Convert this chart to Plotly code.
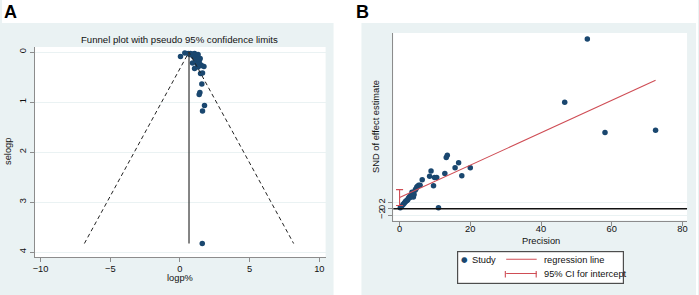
import plotly.graph_objects as go

W, H = 699, 295


def px(x):
    return x / W


def py(y):
    return 1 - y / H


# ---------------- Panel A: funnel plot data ----------------
a_logp = [0.04, 0.35, 0.60, 0.75, 0.95, 1.05, 0.70, 0.85, 1.10, 1.30, 1.20, 1.00,
          1.30, 1.15, 1.45, 1.25, 1.40, 1.15, 1.35, 0.90, 1.25, 1.45, 1.55, 1.72,
          1.05, 1.30, 1.48, 1.62, 1.57, 1.43, 1.38, 1.76, 1.62, 1.60]
a_selogp = [0.09, 0.02, 0.03, 0.03, 0.04, 0.03, 0.05, 0.06, 0.07, 0.05, 0.09, 0.10,
            0.11, 0.12, 0.13, 0.14, 0.16, 0.17, 0.20, 0.22, 0.24, 0.25, 0.27, 0.29,
            0.33, 0.30, 0.43, 0.42, 0.64, 0.81, 0.85, 1.07, 1.18, 3.83]
pooled_logp = 0.65
max_se = 3.83
z95 = 1.96
a_xticks = [-10, -5, 0, 5, 10]
a_yticks = [0, 1, 2, 3, 4]

# ---------------- Panel B: Egger regression data ----------------
b_precision = [0.2, 0.6, 1.0, 1.3, 1.6, 1.8, 2.1, 2.3, 2.5, 2.8, 3.0, 3.2, 3.5, 3.9,
               4.1, 4.4, 4.6, 4.9, 5.0, 5.4, 5.8, 6.4, 8.5, 8.9, 9.6, 9.9, 10.5,
               11.0, 12.8, 13.2, 13.5, 15.7, 16.7, 17.6, 20.0, 46.7, 53.1, 58.1, 72.4]
b_snd = [0.3, 0.8, 1.3, 1.7, 2.1, 2.4, 2.6, 2.8, 3.3, 3.8, 3.5, 4.2, 5.2, 3.7,
         4.5, 5.8, 6.2, 6.8, 7.0, 7.4, 7.4, 9.1, 10.2, 11.9, 7.2, 9.8, 9.8,
         0.3, 11.1, 16.1, 16.8, 12.9, 14.5, 10.4, 12.9, 33.5, 53.4, 24.0, 24.7]
reg_intercept = 3.5
reg_slope = 0.51
reg_x_end = 72.4
ci_low, ci_high = 1.0, 6.0
b_xticks = [0, 20, 40, 60, 80]
b_yticks = [-2, 0, 2]

NAVY = "#1a476f"
RED = "#cf4d55"
BG = "#eaf2f3"
AXIS = "#8c8c8c"
FONT = "Arial, Liberation Sans, sans-serif"
FS = 9.3

fig = go.Figure()

# Panel A traces
fig.add_trace(go.Scatter(x=a_logp, y=a_selogp, mode="markers",
                         marker=dict(color=NAVY, size=5.5, line=dict(width=0)),
                         xaxis="x", yaxis="y", showlegend=False, hoverinfo="skip"))
fig.add_trace(go.Scatter(x=[pooled_logp - z95 * max_se, pooled_logp, pooled_logp + z95 * max_se],
                         y=[max_se, 0, max_se], mode="lines",
                         line=dict(color="#222222", width=1, dash="4px,3px"),
                         xaxis="x", yaxis="y", showlegend=False, hoverinfo="skip"))
fig.add_trace(go.Scatter(x=[pooled_logp, pooled_logp], y=[0, max_se], mode="lines",
                         line=dict(color="#333333", width=1.2),
                         xaxis="x", yaxis="y", showlegend=False, hoverinfo="skip"))

# Panel B traces
fig.add_trace(go.Scatter(x=b_precision, y=b_snd, mode="markers",
                         marker=dict(color=NAVY, size=5.5, line=dict(width=0)),
                         xaxis="x2", yaxis="y2", showlegend=False, hoverinfo="skip"))
fig.add_trace(go.Scatter(x=[0, reg_x_end], y=[reg_intercept, reg_intercept + reg_slope * reg_x_end],
                         mode="lines", line=dict(color=RED, width=1.1),
                         xaxis="x2", yaxis="y2", showlegend=False, hoverinfo="skip"))
cap = 1.0
fig.add_trace(go.Scatter(x=[0, 0, None, -cap, cap, None, -cap, cap],
                         y=[ci_low, ci_high, None, ci_low, ci_low, None, ci_high, ci_high],
                         mode="lines", line=dict(color=RED, width=1.1),
                         xaxis="x2", yaxis="y2", showlegend=False, hoverinfo="skip"))

shapes = []
# white areas outside the two light panels
for (x0, x1, y0, y1) in [(0, 699, 0, 23), (333, 361, 0, 295), (697, 699, 0, 295)]:
    shapes.append(dict(type="rect", xref="paper", yref="paper", x0=px(x0), x1=px(x1), y0=py(y1), y1=py(y0),
                       fillcolor="white", line=dict(width=0), layer="below"))
# zero line in B
shapes.append(dict(type="line", xref="x2 domain", yref="y2", x0=0, x1=1, y0=0, y1=0,
                   line=dict(color="#111111", width=1.3)))


def key_line(x, y, dx, dy):
    # short red legend-key segment drawn as a head-less arrow
    return dict(text="", x=px(x), y=py(y), xref="paper", yref="paper", showarrow=True, arrowhead=0,
                ax=dx, ay=dy, axref="pixel", ayref="pixel", arrowcolor=RED, arrowwidth=1.1,
                standoff=0, startstandoff=0)


tf = dict(family=FONT, size=FS, color="#111111")
annotations = [
    # legend box
    dict(text=" ", x=px(541), y=py(267.5), xanchor="center", yanchor="middle", xref="paper", yref="paper",
         showarrow=False, width=165, height=31, bgcolor="white", bordercolor="#4d4d4d", borderwidth=1.2,
         borderpad=0, font=tf),
    dict(text="●", x=px(464), y=py(259.5), xanchor="center", yanchor="middle", showarrow=False,
         xref="paper", yref="paper", font=dict(family="DejaVu Sans", size=7.5, color=NAVY)),
    key_line(537, 259.3, -32, 0),
    key_line(537, 273.5, -32, 0),
    key_line(505.5, 277.5, 0, -8),
    key_line(536.5, 277.5, 0, -8),
    dict(text="<b>A</b>", x=px(0), y=py(0), xanchor="left", yanchor="top", showarrow=False,
         xref="paper", yref="paper", font=dict(family=FONT, size=18, color="black")),
    dict(text="<b>B</b>", x=px(354), y=py(0), xanchor="left", yanchor="top", showarrow=False,
         xref="paper", yref="paper", font=dict(family=FONT, size=18, color="black")),
    dict(text="Funnel plot with pseudo 95% confidence limits", x=px(178.5), y=py(39), xanchor="center",
         yanchor="middle", showarrow=False, xref="paper", yref="paper", font=dict(family=FONT, size=9.6, color="#111")),
    dict(text="logp%", x=px(178.5), y=py(277.5), xanchor="center", yanchor="middle", showarrow=False,
         xref="paper", yref="paper", font=tf),
    dict(text="selogp", x=px(6), y=py(151), xanchor="center", yanchor="middle", showarrow=False, textangle=-90,
         xref="paper", yref="paper", font=tf),
    dict(text="Precision", x=px(541), y=py(241), xanchor="center", yanchor="middle", showarrow=False,
         xref="paper", yref="paper", font=tf),
    dict(text="SND of effect estimate", x=px(375), y=py(126.5), xanchor="center", yanchor="middle",
         showarrow=False, textangle=-90, xref="paper", yref="paper", font=tf),
    dict(text="Study", x=px(470.5), y=py(259.5), xanchor="left", yanchor="middle", showarrow=False,
         xref="paper", yref="paper", font=tf),
    dict(text="regression line", x=px(542.5), y=py(259.5), xanchor="left", yanchor="middle", showarrow=False,
         xref="paper", yref="paper", font=tf),
    dict(text="95% CI for intercept", x=px(542.5), y=py(273.5), xanchor="left", yanchor="middle",
         showarrow=False, xref="paper", yref="paper", font=tf),
]

axis_common = dict(showline=True, linecolor=AXIS, linewidth=1, ticks="outside", ticklen=4, tickcolor=AXIS,
                   tickwidth=1, zeroline=False, tickfont=dict(family=FONT, size=FS, color="#111111"),
                   fixedrange=True)

fig.update_layout(
    width=W, height=H, margin=dict(l=0, r=0, t=0, b=0),
    paper_bgcolor=BG, plot_bgcolor="white",
    showlegend=False, shapes=shapes, annotations=annotations,
    xaxis=dict(domain=[px(33), px(325)], range=[-10.41, 10.45], tickmode="array", tickvals=a_xticks,
               showgrid=False, anchor="y", ticklabelstandoff=-1, **axis_common),
    yaxis=dict(domain=[py(257), py(47)], range=[4.1, -0.1], tickmode="array", tickvals=a_yticks,
               tickangle=-90, showgrid=True, gridcolor=BG, gridwidth=1, anchor="x", **axis_common),
    xaxis2=dict(domain=[px(393), px(688)], range=[-1.77, 81.3], tickmode="array", tickvals=b_xticks,
                showgrid=False, anchor="y2", ticklabelstandoff=-5, **axis_common),
    yaxis2=dict(domain=[py(220.5), py(33)], range=[-3.7, 55.3], tickmode="array", tickvals=b_yticks,
                tickangle=-90, showgrid=True, gridcolor=BG, gridwidth=1, anchor="x2", **axis_common),
)

fig.write_html("out.html", config={"displayModeBar": False},
               post_script="document.body.style.margin='0';document.body.style.overflow='hidden';")
